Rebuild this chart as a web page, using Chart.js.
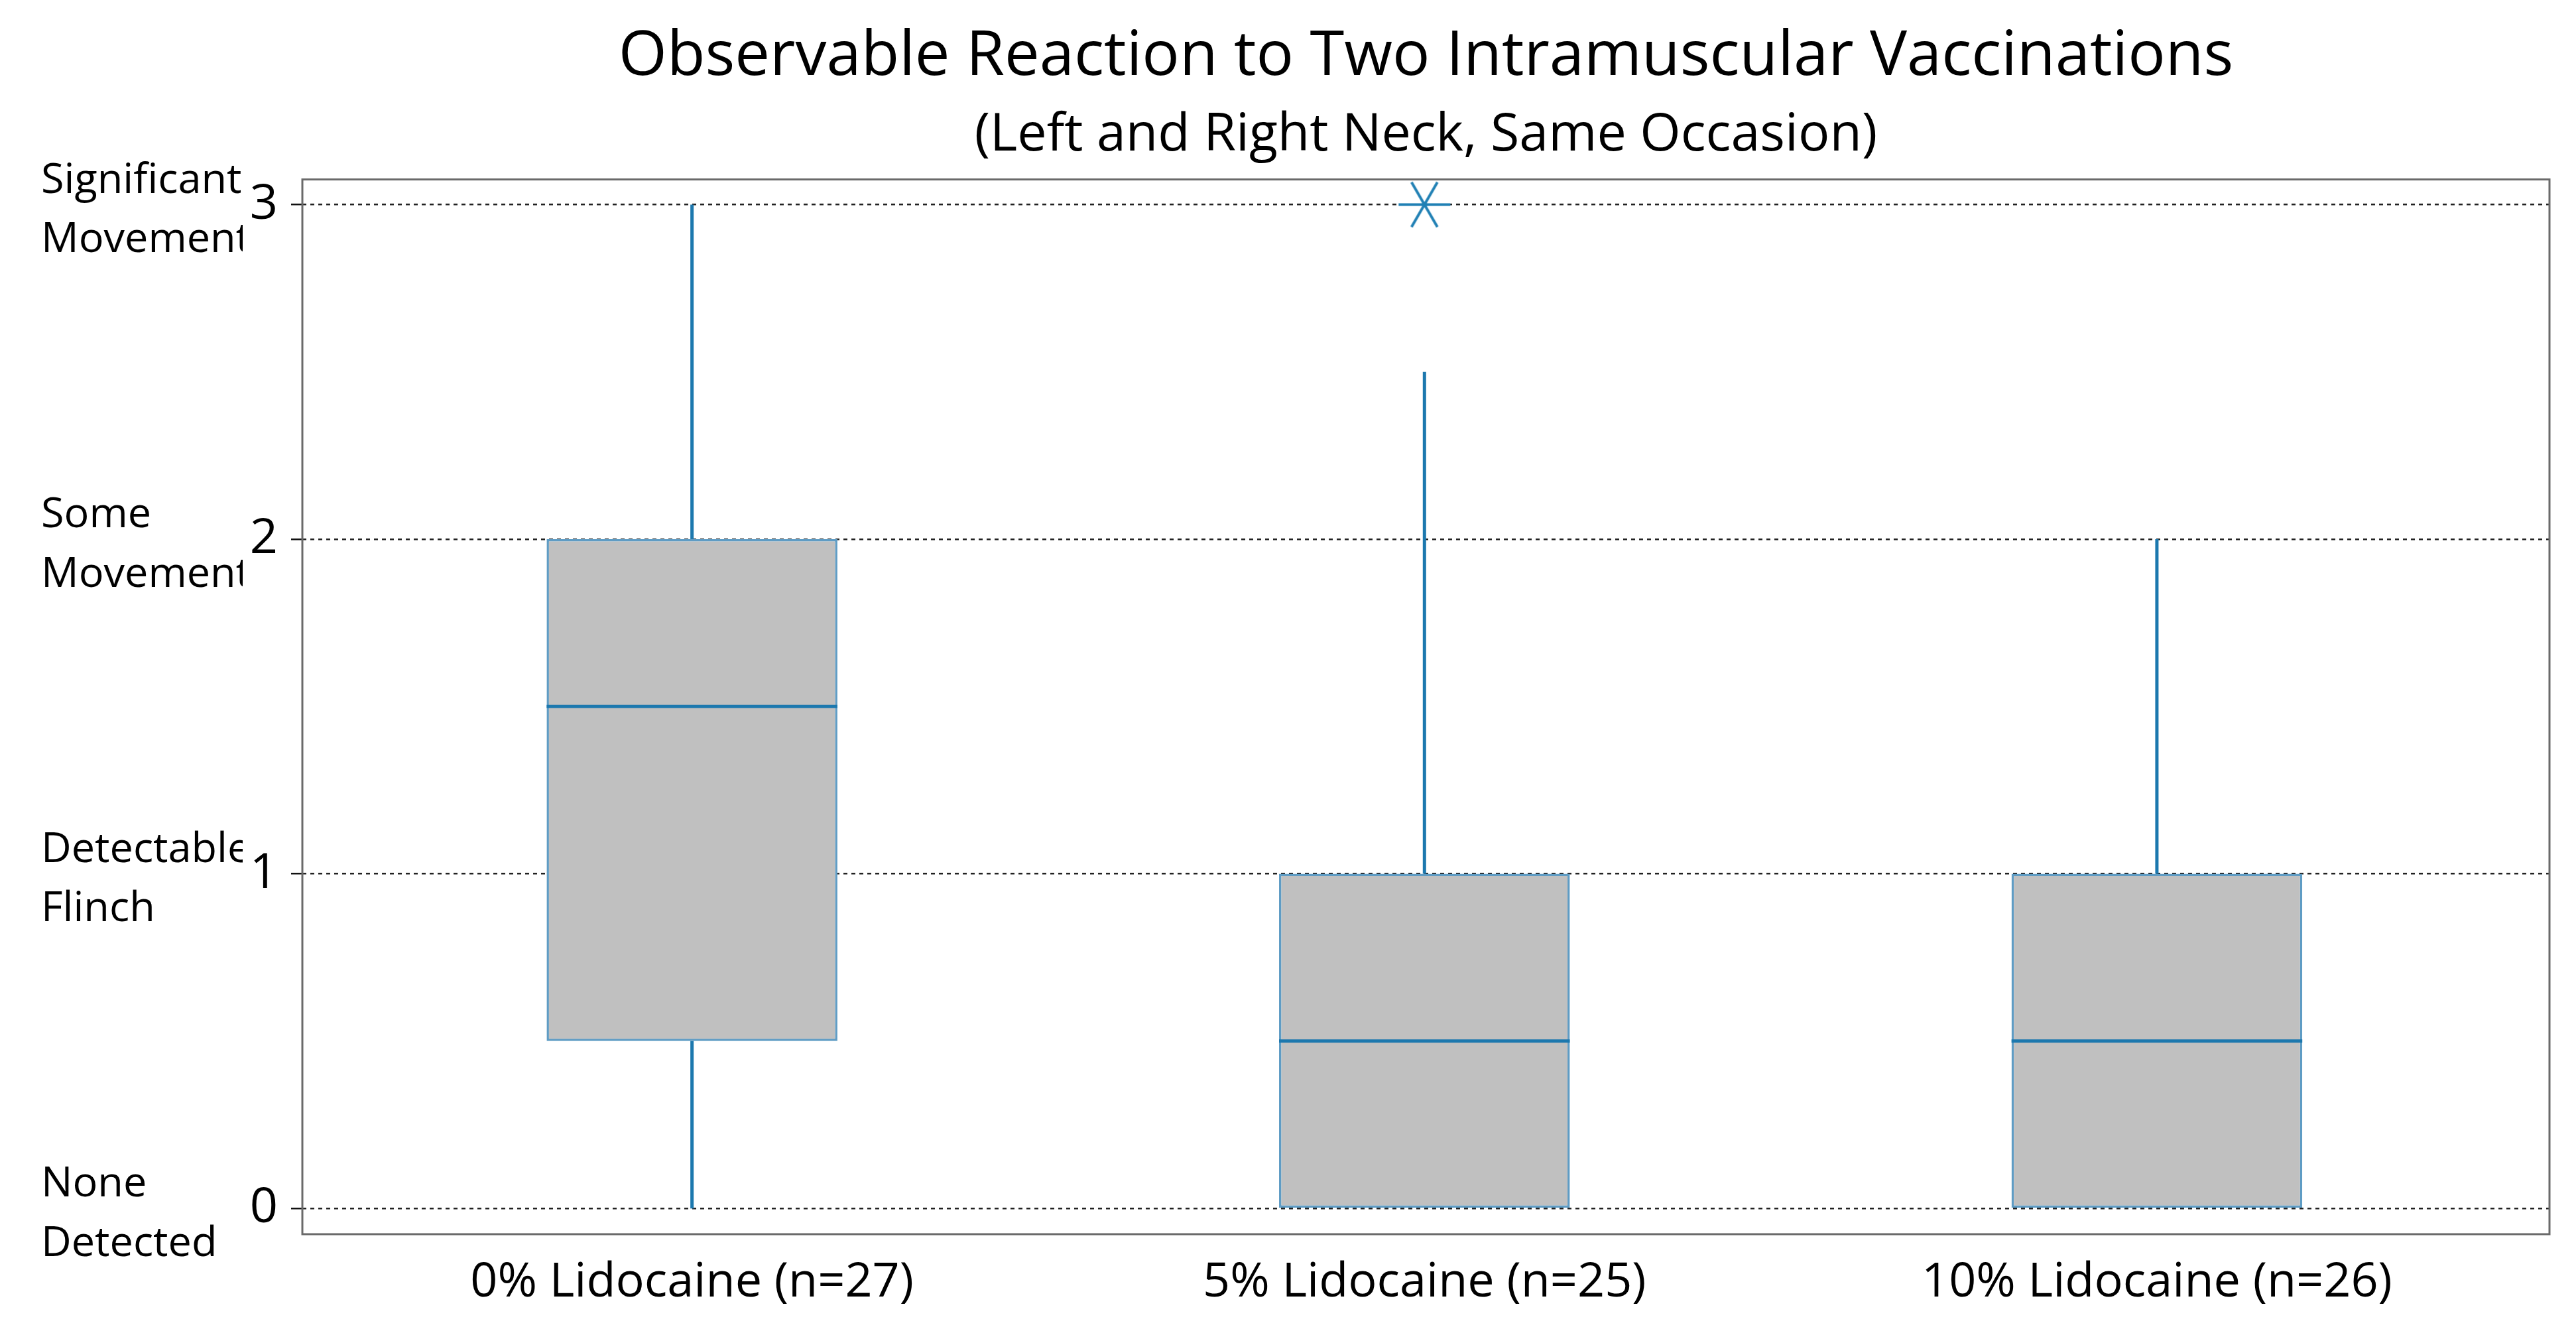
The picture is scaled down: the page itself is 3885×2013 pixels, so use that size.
<!DOCTYPE html>
<html>
<head>
<meta charset="utf-8">
<script src="https://cdn.jsdelivr.net/npm/chart.js@4.4.1/dist/chart.umd.min.js"></script>
<style>
  html, body { margin: 0; padding: 0; background: #fff; }
  #wrap { width: 3885px; height: 2013px; }
</style>
</head>
<body>
<div id="wrap"><canvas id="boxChart" width="3885" height="2013"></canvas></div>
<script>
// ============================================
// DATA — box plot summary per group
// ============================================
const categories   = ['0% Lidocaine (n=27)', '5% Lidocaine (n=25)', '10% Lidocaine (n=26)'];
const whiskerLow   = [0, 0, 0];
const q1Values     = [0.5, 0, 0];
const medianValues = [1.5, 0.5, 0.5];
const q3Values     = [2, 1, 1];
const whiskerHigh  = [3, 2.5, 2];
const outlierValues = [[], [3], []];
const yTickValues  = [0, 1, 2, 3];
const yTickNames   = [['None', 'Detected'], ['Detectable', 'Flinch'], ['Some', 'Movement'], ['Significant', 'Movement']];

// style constants
const BOX_WIDTH = 0.397;          // in category units
const BLUE = '#1c78ae';
const FONT = "'Open Sans', 'Noto Sans', sans-serif";

// six-armed asterisk used for outliers
function makeAsterisk() {
    const c = document.createElement('canvas');
    c.width = 88; c.height = 88;
    const g = c.getContext('2d');
    g.strokeStyle = '#2080b4';
    g.lineWidth = 4;
    for (let k = 0; k < 3; k++) {
        const a = k * Math.PI / 3;
        g.beginPath();
        g.moveTo(44 - 39 * Math.cos(a), 44 - 39 * Math.sin(a));
        g.lineTo(44 + 39 * Math.cos(a), 44 + 39 * Math.sin(a));
        g.stroke();
    }
    return c;
}

// build segment lists (null point = gap)
const upperWhiskers = [];
const lowerWhiskers = [];
const medianLines = [];
categories.forEach((c, i) => {
    upperWhiskers.push({x: i + 1, y: q3Values[i]}, {x: i + 1, y: whiskerHigh[i]}, {x: i + 1, y: null});
    lowerWhiskers.push({x: i + 1, y: whiskerLow[i]}, {x: i + 1, y: q1Values[i]}, {x: i + 1, y: null});
    medianLines.push({x: i + 1 - BOX_WIDTH / 2, y: medianValues[i]}, {x: i + 1 + BOX_WIDTH / 2, y: medianValues[i]}, {x: i + 1, y: null});
});
const outlierPoints = [];
outlierValues.forEach((list, i) => list.forEach(v => outlierPoints.push({x: i + 1, y: v})));

// frame round the plot area
const framePlugin = {
    id: 'frame',
    afterDraw(chart) {
        const {ctx, chartArea: a} = chart;
        ctx.save();
        ctx.strokeStyle = '#6a6a6a';
        ctx.lineWidth = 3;
        ctx.strokeRect(a.left, a.top, a.right - a.left, a.bottom - a.top);
        ctx.restore();
    }
};

const ctx = document.getElementById('boxChart').getContext('2d');
new Chart(ctx, {
    type: 'bar',
    data: {
        datasets: [
            {
                type: 'line',
                label: 'median',
                data: medianLines,
                borderColor: BLUE,
                borderWidth: 5,
                pointRadius: 0,
                spanGaps: false,
                order: 0
            },
            {
                type: 'line',
                label: 'outliers',
                data: outlierPoints,
                showLine: false,
                pointStyle: makeAsterisk(),
                order: 0
            },
            {
                type: 'line',
                label: 'upper whisker',
                data: upperWhiskers,
                borderColor: BLUE,
                borderWidth: 5,
                pointRadius: 0,
                spanGaps: false,
                order: 1
            },
            {
                type: 'line',
                label: 'lower whisker',
                data: lowerWhiskers,
                borderColor: BLUE,
                borderWidth: 5,
                pointRadius: 0,
                spanGaps: false,
                order: 1
            },
            {
                label: 'box',
                data: categories.map((c, i) => ({x: i + 1, y: [q1Values[i], q3Values[i]]})),
                backgroundColor: '#c0c0c0',
                borderColor: '#5f9cc4',
                borderWidth: 3.5,
                borderSkipped: false,
                categoryPercentage: 1,
                barPercentage: BOX_WIDTH,
                order: 2
            }
        ]
    },
    options: {
        responsive: false,
        devicePixelRatio: 1,
        animation: false,
        layout: { padding: { left: 62, right: 40, top: 0, bottom: 0 } },
        plugins: {
            legend: { display: false },
            tooltip: { enabled: false },
            title: {
                display: true,
                fullSize: false,
                text: 'Observable Reaction to Two Intramuscular Vaccinations',
                color: '#000',
                font: { family: FONT, size: 94, weight: 'normal' },
                padding: { top: 30, bottom: 4 }
            },
            subtitle: {
                display: true,
                fullSize: false,
                text: '(Left and Right Neck, Same Occasion)',
                color: '#000',
                font: { family: FONT, size: 79, weight: 'normal' },
                padding: { top: 10, bottom: 19 }
            }
        },
        scales: {
            x: {
                type: 'linear',
                offset: false,
                min: 0.468,
                max: 3.536,
                afterBuildTicks: s => { s.ticks = categories.map((c, i) => ({value: i + 1})); },
                afterFit: s => { s.height = 152; },
                grid: { display: false, drawTicks: false, offset: false },
                border: { display: false },
                ticks: {
                    color: '#000',
                    font: { family: FONT, size: 72 },
                    padding: 30,
                    maxRotation: 0,
                    callback: v => categories[v - 1]
                }
            },
            y: {
                type: 'linear',
                position: 'left',
                weight: 0,
                min: -0.077,
                max: 3.075,
                afterBuildTicks: s => { s.ticks = yTickValues.map(v => ({value: v})); },
                afterFit: s => { s.width = 90; },
                grid: { color: '#222', lineWidth: 2.5, tickLength: 17, tickBorderDash: [], tickColor: '#111' },
                border: { display: false, dash: [6, 6] },
                ticks: {
                    color: '#000',
                    font: { family: FONT, size: 74 },
                    padding: 20,
                    callback: v => String(v)
                }
            },
            yLab: {
                type: 'linear',
                position: 'left',
                weight: 1,
                min: -0.077,
                max: 3.075,
                afterBuildTicks: s => { s.ticks = yTickValues.map(v => ({value: v})); },
                afterFit: s => { s.width = 304; },
                grid: { display: false, drawTicks: false },
                border: { display: false },
                ticks: {
                    color: '#000',
                    crossAlign: 'far',
                    font: { family: FONT, size: 63, lineHeight: 1.42 },
                    padding: 0,
                    labelOffset: 9,
                    callback: v => yTickNames[yTickValues.indexOf(v)]
                }
            }
        }
    },
    plugins: [framePlugin]
});
</script>
</body>
</html>
